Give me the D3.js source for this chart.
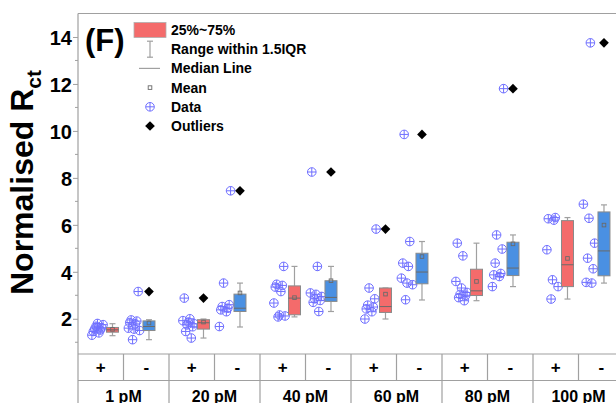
<!DOCTYPE html>
<html>
<head>
<meta charset="utf-8">
<script src="https://cdn.jsdelivr.net/npm/d3@7"></script>
<style>
  body { margin: 0; background: #fff; }
  svg { display: block; font-family: "Liberation Sans", Arial, sans-serif; }
</style>
</head>
<body>
<svg id="chart" width="616" height="403"></svg>
<script>
// categories
const groups = ["1 pM", "20 pM", "40 pM", "60 pM", "80 pM", "100 pM"];
const conds = ["+", "-"];

// box statistics, order: 1pM+, 1pM-, 20pM+, 20pM-, ...
const q1      = [1.43, 1.50, 1.56, 2.31, 2.17, 2.74, 2.27, 3.49, 2.99, 3.84, 3.37, 3.83];
const median  = [1.53, 1.67, 1.83, 2.45, 2.88, 2.91, 2.52, 3.99, 3.19, 4.16, 4.30, 4.89];
const q3      = [1.63, 1.91, 1.96, 3.05, 3.40, 3.62, 3.31, 4.79, 4.11, 5.26, 6.18, 6.55];
const whiskLo = [1.28, 1.11, 1.18, 1.65, 2.08, 2.31, 1.99, 2.80, 2.77, 3.37, 2.84, 3.52];
const whiskHi = [1.79, 1.96, 1.99, 3.52, 4.23, 4.23, 3.31, 5.29, 5.22, 5.57, 6.31, 6.85];
const means   = [1.55, 1.82, 1.86, 3.10, 2.90, 3.62, 3.05, 4.65, 3.59, 5.19, 4.57, 5.99];
const outliers = [[], [3.16], [2.88], [7.45], [], [8.25], [5.82], [9.85], [], [11.8], [], [13.75]];

// raw data points
const points = [
  [1.30, 1.40, 1.46, 1.52, 1.57, 1.62, 1.68, 1.75, 1.80],
  [1.11, 1.50, 1.56, 1.60, 1.78, 1.84, 1.90, 1.95, 3.16],
  [1.18, 1.46, 1.66, 1.74, 1.79, 1.86, 1.92, 2.00, 2.88],
  [1.67, 2.30, 2.38, 2.45, 2.52, 2.60, 3.52, 7.45],
  [2.08, 2.12, 2.16, 2.67, 3.16, 3.35, 3.42, 3.47, 4.23],
  [2.31, 2.70, 2.78, 2.85, 2.95, 3.04, 3.10, 4.23, 8.25],
  [1.99, 2.30, 2.42, 2.50, 2.58, 2.85, 3.31, 5.82],
  [2.81, 3.45, 3.52, 3.73, 4.23, 4.37, 5.29, 9.85],
  [2.77, 2.90, 3.00, 3.04, 3.12, 3.31, 3.59, 4.68, 5.22],
  [3.37, 3.80, 3.87, 3.93, 4.37, 4.97, 5.57, 11.8],
  [2.84, 3.37, 3.66, 4.94, 6.20, 6.26, 6.31],
  [3.52, 3.55, 4.13, 4.58, 5.22, 6.28, 6.88, 13.75]
];

const yTicks = [2, 4, 6, 8, 10, 12, 14];
const legendLabels = ["25%~75%", "Range within 1.5IQR", "Median Line", "Mean", "Data", "Outliers"];

const colBox = ["#F46B6B", "#4A90E2"];
const colData = "#6F6FFF";
const colGray = "#A0A0A0";

const svg = d3.select("#chart");
const font = "'Liberation Sans', Arial, sans-serif";

const x = d3.scaleLinear().domain([0, 6]).range([78, 624]);
const y = d3.scaleLinear().domain([0.5, 15]).range([354, 13.5]);

const boxPos = [0.379, 0.78];     // box centre inside a group
const dataShift = -15;            // data column left of box, px
const boxW = 12, capW = 6;

// frame
svg.append("line").attr("x1", 78).attr("x2", 640).attr("y1", y(15)).attr("y2", y(15))
  .attr("stroke", colGray).attr("stroke-width", 1.2);
svg.append("line").attr("x1", 78).attr("x2", 78).attr("y1", y(15)).attr("y2", 403)
  .attr("stroke", colGray).attr("stroke-width", 1.2);

// y axis
const yAxis = d3.axisLeft(y).tickValues(yTicks).tickSize(5).tickFormat(d3.format("d"));
const gy = svg.append("g").attr("transform", "translate(78,0)").call(yAxis);
gy.select(".domain").remove();
gy.selectAll(".tick line").attr("stroke", colGray);
gy.selectAll(".tick text").attr("font-size", 20).attr("font-weight", "bold")
  .attr("font-family", font).attr("fill", "#000").attr("x", -6).attr("dy", "0.36em");
const minor = d3.range(1, 15, 2);
svg.append("g").selectAll("line").data(minor).join("line")
  .attr("x1", 75).attr("x2", 78).attr("y1", d => y(d)).attr("y2", d => y(d))
  .attr("stroke", colGray);

// y title
const title = svg.append("text")
  .attr("transform", "translate(33,295) rotate(-90)")
  .attr("font-size", 32).attr("font-weight", "bold").attr("font-family", font);
title.append("tspan").text("Normalised R");
title.append("tspan").text("ct").attr("font-size", 21).attr("dy", 8);

// panel label
svg.append("text").attr("x", 85).attr("y", 51).text("(F)")
  .attr("font-size", 31).attr("font-weight", "bold").attr("font-family", font);

// category table below the plot
const table = svg.append("g");
[354, 380.5].forEach(v => {
  table.append("line").attr("x1", 78).attr("x2", 640).attr("y1", v).attr("y2", v)
    .attr("stroke", colGray).attr("stroke-width", 1.2);
});
table.selectAll(".gsep").data(d3.range(1, 7)).join("line")
  .attr("x1", d => x(d)).attr("x2", d => x(d)).attr("y1", 354).attr("y2", 403)
  .attr("stroke", colGray).attr("stroke-width", 1.2);
table.selectAll(".ssep").data(d3.range(6)).join("line")
  .attr("x1", d => x(d + 0.5)).attr("x2", d => x(d + 0.5)).attr("y1", 354).attr("y2", 380.5)
  .attr("stroke", colGray).attr("stroke-width", 1.2);
groups.forEach((gName, g) => {
  conds.forEach((c, ci) => {
    table.append("text").attr("x", x(g + 0.25 + ci * 0.5)).attr("y", 373)
      .attr("text-anchor", "middle").text(c)
      .attr("font-size", 17).attr("font-weight", "bold").attr("font-family", font);
  });
  table.append("text").attr("x", x(g + 0.5)).attr("y", 401.5)
    .attr("text-anchor", "middle").text(gName)
    .attr("font-size", 16).attr("font-weight", "bold").attr("font-family", font);
});

function dataMarker(sel, cx, cy) {
  const m = sel.append("g").attr("transform", `translate(${cx},${cy})`)
    .attr("stroke", colData).attr("stroke-width", 1).attr("fill", "none");
  m.append("circle").attr("r", 4.3);
  m.append("line").attr("x1", -4.3).attr("x2", 4.3);
  m.append("line").attr("y1", -4.3).attr("y2", 4.3);
}
function diamond(sel, cx, cy) {
  sel.append("path").attr("d", d3.symbol(d3.symbolDiamond2, 60)())
    .attr("transform", `translate(${cx},${cy})`).attr("fill", "#000");
}

const plot = svg.append("g");
points.forEach((vals, i) => {
  const g = Math.floor(i / 2), ci = i % 2;
  const bx = x(g + boxPos[ci]);
  // data column (deterministic jitter)
  vals.forEach((v, k) => {
    const jit = (((k * 5 + i * 3) % 9) - 4) * 1.4;
    dataMarker(plot, bx + dataShift + jit, y(v));
  });
  // whiskers
  const wg = plot.append("g").attr("stroke", colGray).attr("stroke-width", 1.2);
  wg.append("line").attr("x1", bx).attr("x2", bx).attr("y1", y(whiskHi[i])).attr("y2", y(q3[i]));
  wg.append("line").attr("x1", bx).attr("x2", bx).attr("y1", y(q1[i])).attr("y2", y(whiskLo[i]));
  wg.append("line").attr("x1", bx - capW / 2).attr("x2", bx + capW / 2).attr("y1", y(whiskHi[i])).attr("y2", y(whiskHi[i]));
  wg.append("line").attr("x1", bx - capW / 2).attr("x2", bx + capW / 2).attr("y1", y(whiskLo[i])).attr("y2", y(whiskLo[i]));
  // box
  plot.append("rect").attr("x", bx - boxW / 2).attr("width", boxW)
    .attr("y", y(q3[i])).attr("height", y(q1[i]) - y(q3[i]))
    .attr("fill", colBox[ci]).attr("stroke", "#8a8a8a").attr("stroke-width", 1);
  plot.append("line").attr("x1", bx - boxW / 2).attr("x2", bx + boxW / 2)
    .attr("y1", y(median[i])).attr("y2", y(median[i]))
    .attr("stroke", "#6a6a6a").attr("stroke-width", 1);
  plot.append("rect").attr("x", bx - 1.8).attr("y", y(means[i]) - 1.8)
    .attr("width", 3.6).attr("height", 3.6)
    .attr("fill", "none").attr("stroke", "#6a6a6a").attr("stroke-width", 0.9);
  outliers[i].forEach(v => diamond(plot, bx, y(v)));
});

// legend
const leg = svg.append("g");
const lx = 150, ly0 = 30, lstep = 19.2;
legendLabels.forEach((t, i) => {
  leg.append("text").attr("x", 171).attr("y", ly0 + i * lstep + 5).text(t)
    .attr("font-size", 14).attr("font-weight", "bold").attr("font-family", font);
});
leg.append("rect").attr("x", 134).attr("y", ly0 - 7.5).attr("width", 32).attr("height", 15)
  .attr("fill", colBox[0]).attr("stroke", "#b0b0b0").attr("stroke-width", 0.8);
const w1 = ly0 + lstep;
leg.append("line").attr("x1", lx).attr("x2", lx).attr("y1", w1 - 8).attr("y2", w1 + 8).attr("stroke", colGray).attr("stroke-width", 1.2);
leg.append("line").attr("x1", lx - 3).attr("x2", lx + 3).attr("y1", w1 - 8).attr("y2", w1 - 8).attr("stroke", colGray).attr("stroke-width", 1.2);
leg.append("line").attr("x1", lx - 3).attr("x2", lx + 3).attr("y1", w1 + 8).attr("y2", w1 + 8).attr("stroke", colGray).attr("stroke-width", 1.2);
leg.append("line").attr("x1", 139).attr("x2", 160).attr("y1", ly0 + 2 * lstep).attr("y2", ly0 + 2 * lstep)
  .attr("stroke", colGray).attr("stroke-width", 1.2);
leg.append("rect").attr("x", lx - 1.8).attr("y", ly0 + 3 * lstep - 1.8).attr("width", 3.6).attr("height", 3.6)
  .attr("fill", "none").attr("stroke", "#6a6a6a").attr("stroke-width", 0.9);
dataMarker(leg, lx, ly0 + 4 * lstep);
diamond(leg, lx, ly0 + 5 * lstep);
</script>
</body>
</html>
